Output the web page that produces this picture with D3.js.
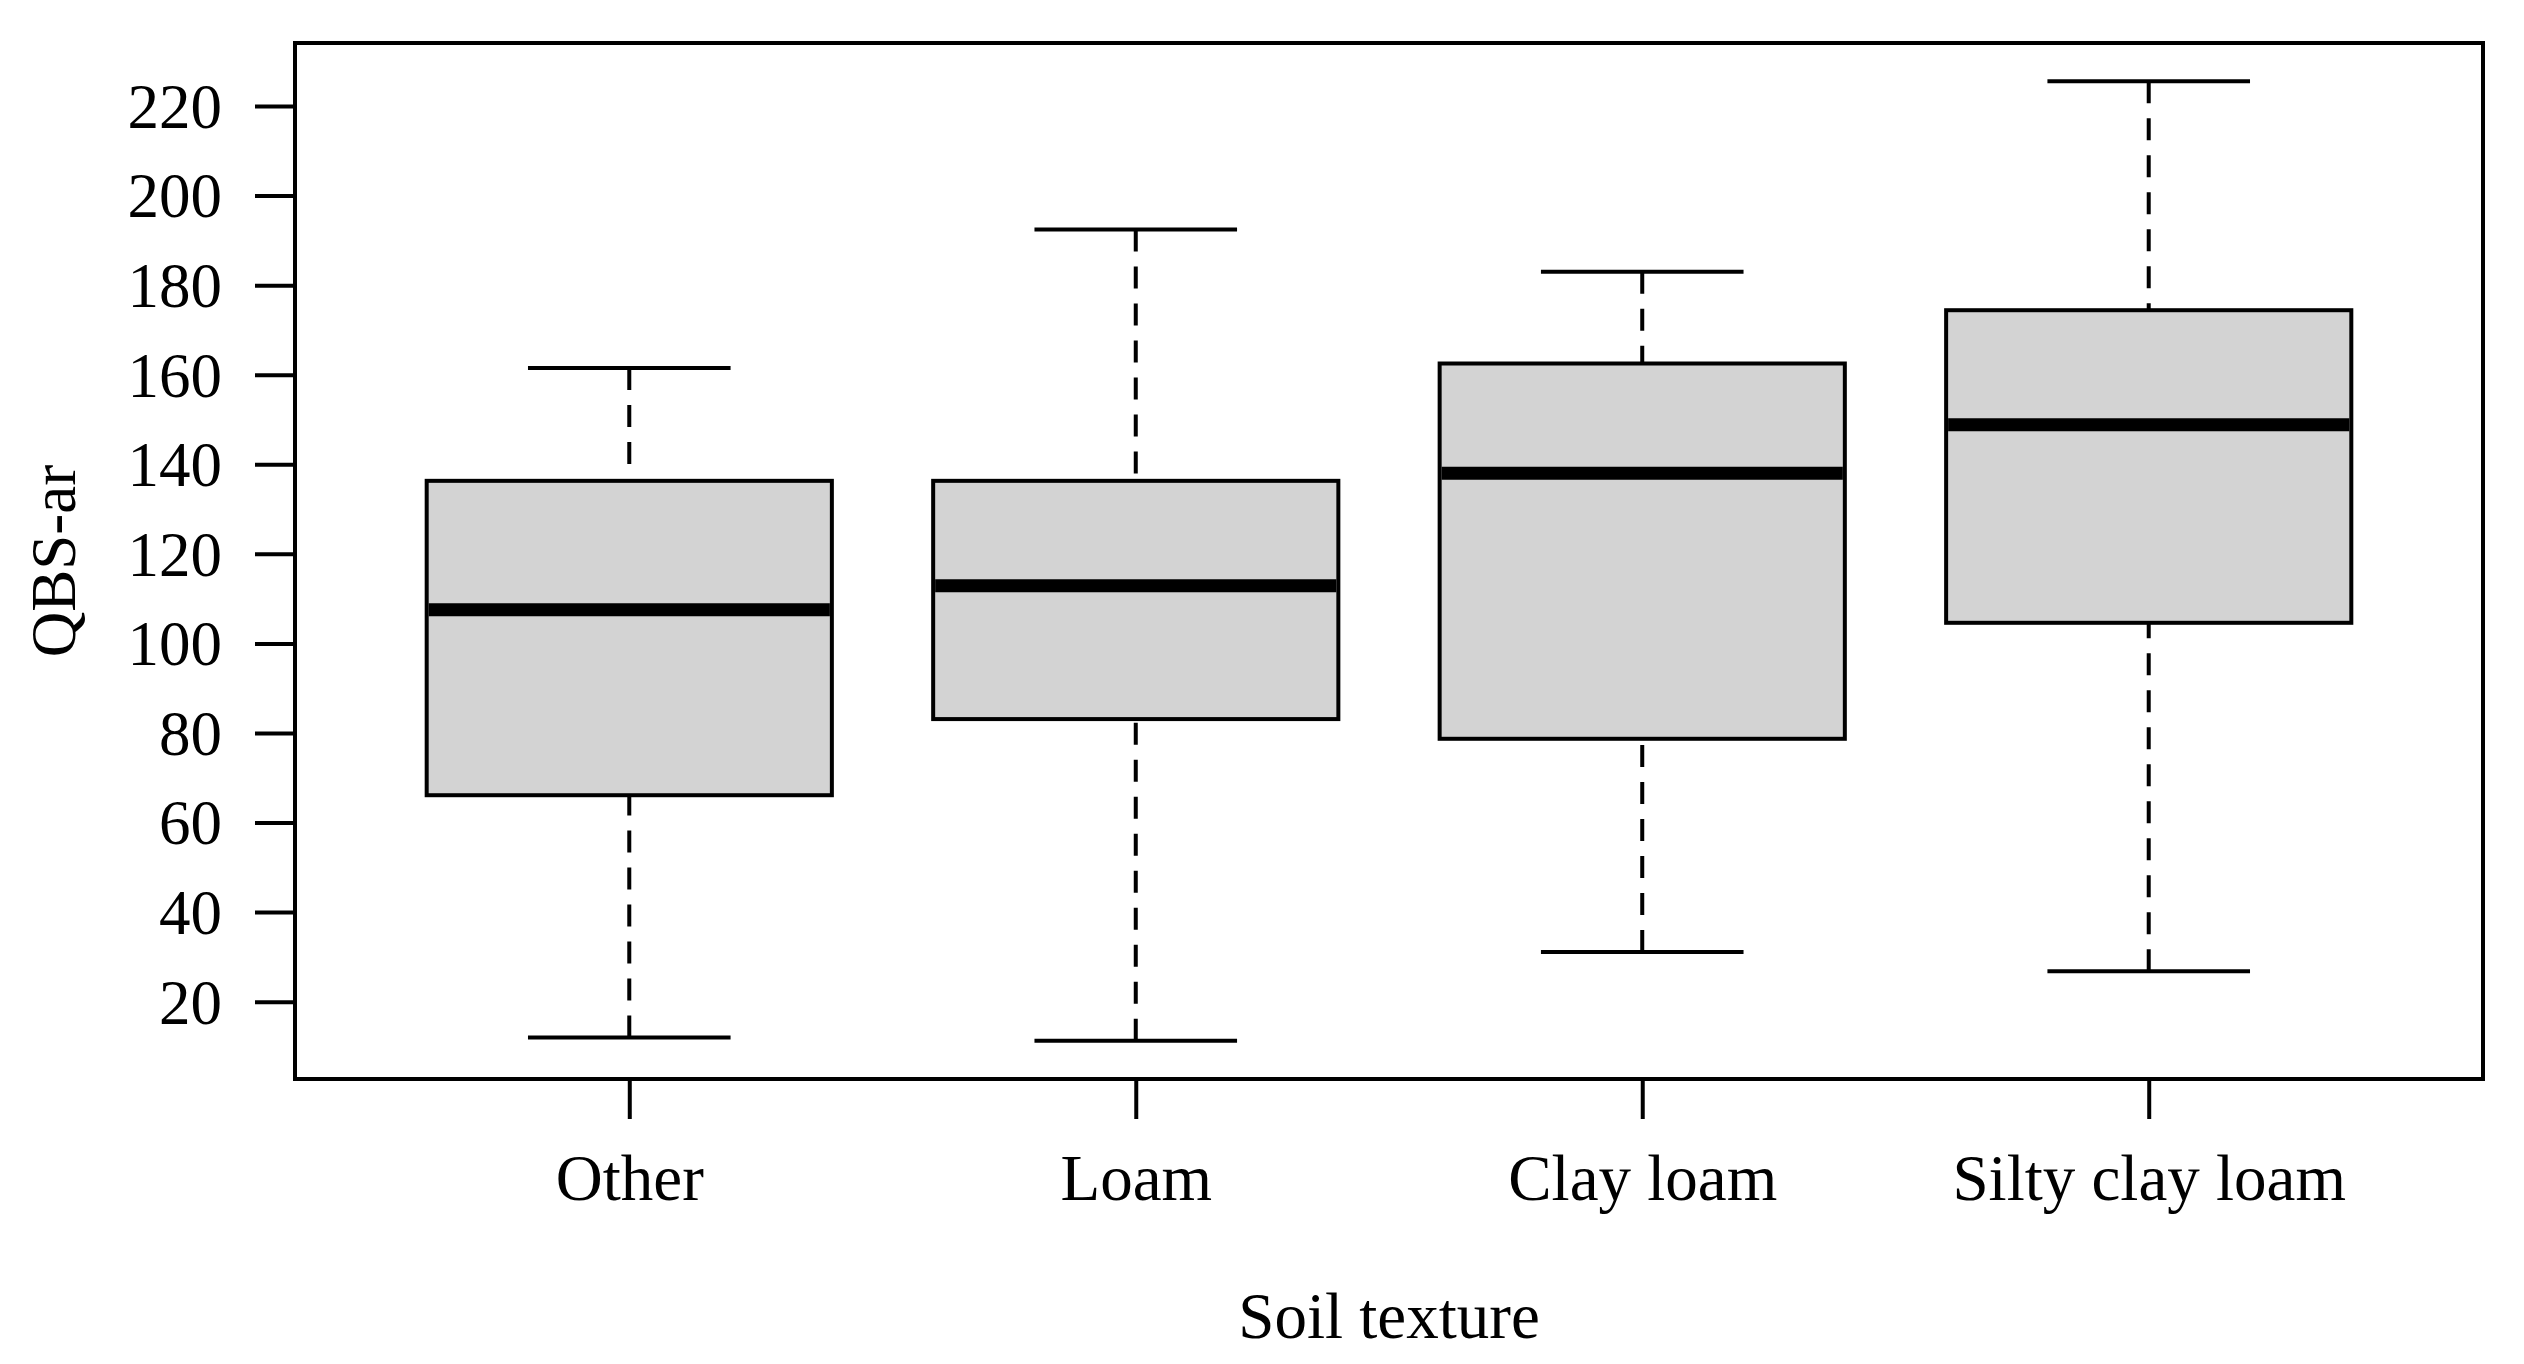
<!DOCTYPE html>
<meta charset="utf-8">
<html>
<head>
  <title>QBS-ar by soil texture</title>
  <style>
    body { margin: 0; background: #fff; }
    svg { width: 2524px; height: 1364px; display: block; }
    text { font-family: 'Liberation Serif', 'DejaVu Serif', serif; fill: #000; }
    .box { fill: #d3d3d3; stroke: #000; stroke-width: 4; }
    .median { stroke: #000; stroke-width: 13; }
    .whisker { stroke: #000; stroke-width: 4; stroke-dasharray: 22,15; }
    .staple { stroke: #000; stroke-width: 4; }
    .frame { fill: none; stroke: #000; stroke-width: 4; }
    .axis line { stroke: #000; stroke-width: 4; }
    .axis path { display: none; }
  </style>
  <script src="https://d3js.org/d3.v7.min.js"></script>
</head>
<body>
  <svg></svg>
  <script>
    // values
    var categories = ["Other", "Loam", "Clay loam", "Silty clay loam"];
    var lowerWhisker = [12.0, 11.3, 31.1, 26.8];
    var q1 = [66.1, 83.1, 78.7, 104.6];
    var median = [107.5, 112.9, 138.0, 148.8];
    var q3 = [136.3, 136.3, 162.5, 174.4];
    var upperWhisker = [161.5, 192.4, 183.0, 225.5];
    var yTicks = [20, 40, 60, 80, 100, 120, 140, 160, 180, 200, 220];

    var data = categories.map(function(c, i) {
      return { name: c, pos: i + 1, lo: lowerWhisker[i], q1: q1[i], med: median[i], q3: q3[i], hi: upperWhisker[i] };
    });

    var svg = d3.select("svg");

    // plot region (frame) -- note: "top" is reserved on window, so keep it in an object
    var plot = { left: 295, right: 2483, top: 43, bottom: 1079 };

    // R style axis range: extend by 4% on each side
    var ymin = d3.min(lowerWhisker), ymax = d3.max(upperWhisker);
    var pad = (ymax - ymin) * 0.04;
    var y = d3.scaleLinear().domain([ymin - pad, ymax + pad]).range([plot.bottom, plot.top]);
    var x = d3.scaleLinear().domain([0.5 - 0.16, categories.length + 0.5 + 0.16]).range([plot.left, plot.right]);

    var boxHalf = (x(1.4) - x(1));
    var stapleHalf = boxHalf / 2;

    var g = svg.append("g");

    // whiskers, dashed, drawn from the staple towards the box
    g.selectAll(".whisker-up")
      .data(data)
      .enter().append("line")
        .attr("class", "whisker")
        .attr("x1", function(d) { return x(d.pos); })
        .attr("x2", function(d) { return x(d.pos); })
        .attr("y1", function(d) { return y(d.hi); })
        .attr("y2", function(d) { return y(d.q3); });

    g.selectAll(".whisker-down")
      .data(data)
      .enter().append("line")
        .attr("class", "whisker")
        .attr("x1", function(d) { return x(d.pos); })
        .attr("x2", function(d) { return x(d.pos); })
        .attr("y1", function(d) { return y(d.lo); })
        .attr("y2", function(d) { return y(d.q1); });

    // staples
    ["hi", "lo"].forEach(function(k) {
      g.selectAll(".staple-" + k)
        .data(data)
        .enter().append("line")
          .attr("class", "staple")
          .attr("x1", function(d) { return x(d.pos) - stapleHalf; })
          .attr("x2", function(d) { return x(d.pos) + stapleHalf; })
          .attr("y1", function(d) { return y(d[k]); })
          .attr("y2", function(d) { return y(d[k]); });
    });

    // boxes
    g.selectAll(".box")
      .data(data)
      .enter().append("rect")
        .attr("class", "box")
        .attr("x", function(d) { return x(d.pos) - boxHalf; })
        .attr("width", boxHalf * 2)
        .attr("y", function(d) { return y(d.q3); })
        .attr("height", function(d) { return y(d.q1) - y(d.q3); });

    // medians
    g.selectAll(".median")
      .data(data)
      .enter().append("line")
        .attr("class", "median")
        .attr("x1", function(d) { return x(d.pos) - boxHalf + 2; })
        .attr("x2", function(d) { return x(d.pos) + boxHalf - 2; })
        .attr("y1", function(d) { return y(d.med); })
        .attr("y2", function(d) { return y(d.med); });

    // frame
    svg.append("rect")
      .attr("class", "frame")
      .attr("x", plot.left).attr("y", plot.top)
      .attr("width", plot.right - plot.left).attr("height", plot.bottom - plot.top);

    // y axis
    var yAxis = svg.append("g")
      .attr("class", "axis")
      .attr("transform", "translate(" + plot.left + ",0)")
      .call(d3.axisLeft(y).tickValues(yTicks).tickSize(40).tickPadding(33));
    yAxis.selectAll("text")
      .style("font-size", "63px")
      .attr("dy", "0.34em");

    // x axis
    var xAxis = svg.append("g")
      .attr("class", "axis")
      .attr("transform", "translate(0," + plot.bottom + ")")
      .call(d3.axisBottom(x).tickValues(data.map(function(d) { return d.pos; }))
        .tickFormat(function(v) { return categories[v - 1]; })
        .tickSize(40));
    xAxis.selectAll("text")
      .style("font-size", "65px")
      .attr("y", 1200 - plot.bottom)
      .attr("dy", 0);

    // axis titles
    svg.append("text")
      .attr("x", (plot.left + plot.right) / 2)
      .attr("y", 1338)
      .attr("text-anchor", "middle")
      .style("font-size", "65px")
      .text("Soil texture");

    svg.append("text")
      .attr("transform", "translate(75," + ((plot.top + plot.bottom) / 2) + ") rotate(-90)")
      .attr("text-anchor", "middle")
      .style("font-size", "63px")
      .text("QBS-ar");
  </script>
</body>
</html>
